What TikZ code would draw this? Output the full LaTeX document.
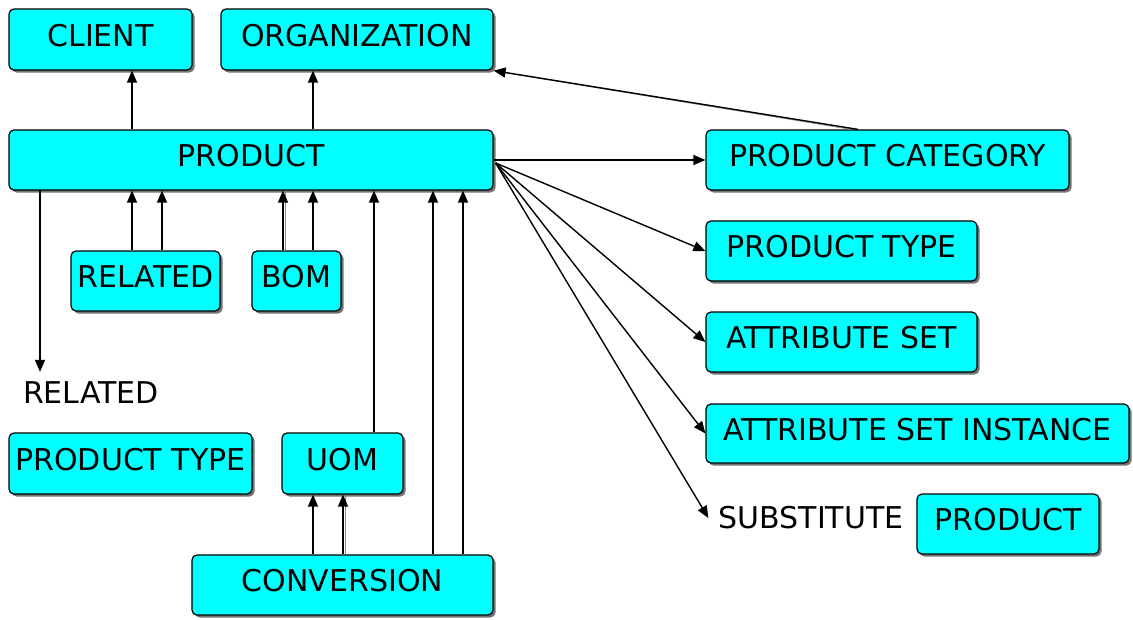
\documentclass[tikz,border=0pt]{standalone}
\usepackage{fontspec}
\setmainfont{DejaVu Sans}
\usetikzlibrary{shadows,arrows.meta}

\definecolor{entfill}{HTML}{00FFFF}

\tikzset{
  ent/.style={draw=black, line width=1.2pt, fill=entfill, rounded corners=5pt,
    inner sep=0pt, text height=17pt, text depth=4pt,
    drop shadow={shadow xshift=2.5pt, shadow yshift=-2.5pt, fill=black!55, opacity=1},
    font=\fontsize{30}{36}\selectfont},
  plain/.style={inner sep=10pt, font=\fontsize{30}{36}\selectfont},
  arr/.style={line width=1.4pt, -{Triangle[length=12pt,width=10pt]}},
  ghost/.style={line width=0.7pt, draw=black!45}
}

\begin{document}
\begin{tikzpicture}[x=1pt,y=-1pt]
\useasboundingbox (0,0) rectangle (1133,619);

% entity boxes
\node[ent, minimum width=183pt, minimum height=61pt] (client) at (100.5,39.5) {CLIENT};
\node[ent, minimum width=272pt, minimum height=61pt] (org) at (357,39.5) {ORGANIZATION};
\node[ent, minimum width=484pt, minimum height=60pt] (product) at (251,160) {PRODUCT};
\node[ent, minimum width=363pt, minimum height=60pt] (pcat) at (887.5,160) {PRODUCT CATEGORY};
\node[ent, minimum width=271pt, minimum height=60pt] (ptypeR) at (841.5,251) {PRODUCT TYPE};
\node[ent, minimum width=271pt, minimum height=60pt] (aset) at (841.5,342) {ATTRIBUTE SET};
\node[ent, minimum width=423pt, minimum height=59pt] (asi) at (917.5,433.5) {ATTRIBUTE SET INSTANCE};
\node[ent, minimum width=182pt, minimum height=60pt] (subprod) at (1008,524) {PRODUCT};
\node[ent, minimum width=149pt, minimum height=60pt] (related) at (145.5,281) {RELATED};
\node[ent, minimum width=89pt, minimum height=60pt] (bom) at (296.5,281) {BOM};
\node[ent, minimum width=243pt, minimum height=61pt] (ptypeL) at (130.5,463.5) {PRODUCT TYPE};
\node[ent, minimum width=121pt, minimum height=61pt] (uom) at (342.5,463.5) {UOM};
\node[ent, minimum width=301pt, minimum height=60pt] (conv) at (342.5,585) {CONVERSION};

% plain labels
\node[plain] (reltxt) at (91,393) {RELATED};
\node[plain] (subst) at (811,518) {SUBSTITUTE};

% upward references
\draw[arr] (product.north -| 132,0) -- (client.south -| 132,0);
\draw[arr] (product.north -| 313,0) -- (org.south -| 313,0);
\draw[arr] (related.north -| 132,0) -- (product.south -| 132,0);
\draw[arr] (related.north -| 162,0) -- (product.south -| 162,0);
\draw[ghost] (bom.north -| 285,0) -- (product.south -| 285,0);
\draw[arr] (bom.north -| 283,0) -- (product.south -| 283,0);
\draw[arr] (bom.north -| 313,0) -- (product.south -| 313,0);
\draw[arr] (uom.north -| 374,0) -- (product.south -| 374,0);
\draw[arr] (conv.north -| 433,0) -- (product.south -| 433,0);
\draw[arr] (conv.north -| 463,0) -- (product.south -| 463,0);
\draw[arr] (conv.north -| 313,0) -- (uom.south -| 313,0);
\draw[ghost] (conv.north -| 345,0) -- (uom.south -| 345,0);
\draw[arr] (conv.north -| 343,0) -- (uom.south -| 343,0);

% downward reference
\draw[arr] (product.south -| 40,0) -- (reltxt.north -| 40,0);

% product category to organization
\draw[ghost] (pcat.north -| 851,0) -- ([xshift=4pt,yshift=-1pt]org.south east);
\draw[arr] (pcat.north -| 858,0) -- (org.south east);

% fan out of product
\coordinate (fan) at ([xshift=2pt,yshift=-3pt]product.east);
\draw[arr] (product.east) -- (pcat.west);
\draw[arr] (fan) -- (ptypeR.west);
\draw[arr] (fan) -- (aset.west);
\draw[arr] (fan) -- (asi.west);
\draw[arr] (fan) -- (subst.west);
\end{tikzpicture}
\end{document}
